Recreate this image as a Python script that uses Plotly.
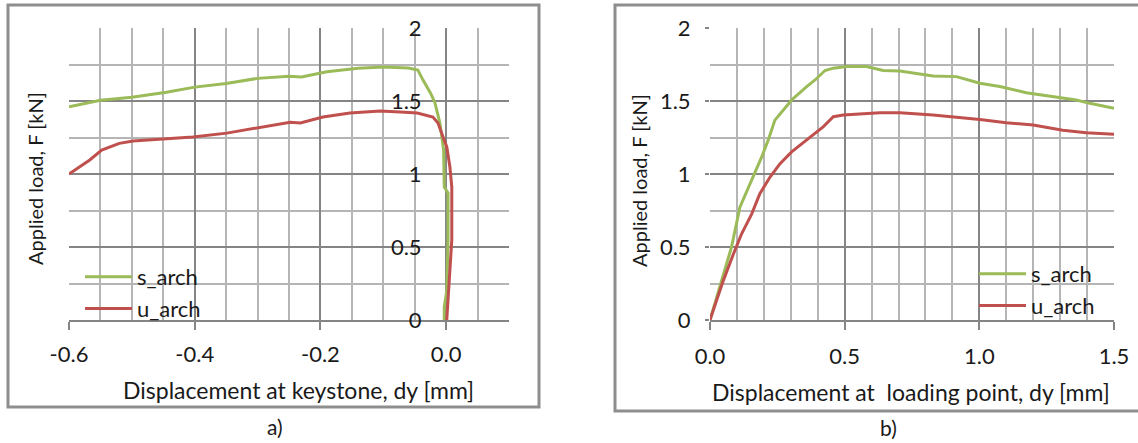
import plotly.graph_objects as go

# ---------------- data ----------------
# panel a) displacement at keystone
a_s_x = [-0.6, -0.55, -0.5, -0.445, -0.40, -0.35, -0.30, -0.25, -0.23, -0.19, -0.14, -0.10,
         -0.06, -0.045, -0.037, -0.025, -0.018, -0.010, -0.004, -0.003, 0.003, 0.003, 0.001,
         -0.003, -0.003]
a_s_y = [1.46, 1.505, 1.525, 1.56, 1.595, 1.62, 1.655, 1.67, 1.665, 1.70, 1.725, 1.733,
         1.726, 1.712, 1.645, 1.555, 1.49, 1.35, 1.165, 0.91, 0.87, 0.55, 0.20,
         0.09, 0.0]
a_u_x = [-0.6, -0.567, -0.548, -0.52, -0.498, -0.444, -0.403, -0.349, -0.296, -0.248, -0.232,
         -0.196, -0.153, -0.105, -0.073, -0.046, -0.021, -0.013, -0.005, 0.001, 0.006, 0.009,
         0.009, 0.006, 0.003, 0.001]
a_u_y = [1.0, 1.096, 1.164, 1.21, 1.226, 1.24, 1.253, 1.28, 1.32, 1.355, 1.35,
         1.39, 1.418, 1.432, 1.425, 1.418, 1.39, 1.35, 1.255, 1.185, 1.048, 0.91,
         0.55, 0.32, 0.158, 0.0]

# panel b) displacement at loading point
b_s_x = [0.0, 0.08, 0.111, 0.161, 0.192, 0.216, 0.241, 0.278, 0.303, 0.359, 0.39, 0.427,
         0.458, 0.507, 0.581, 0.643, 0.705, 0.828, 0.915, 1.002, 1.076, 1.174, 1.274,
         1.36, 1.41, 1.5]
b_s_y = [0.0, 0.5, 0.773, 0.98, 1.117, 1.232, 1.369, 1.45, 1.507, 1.599, 1.644, 1.709,
         1.725, 1.736, 1.736, 1.709, 1.706, 1.672, 1.667, 1.622, 1.599, 1.557, 1.53,
         1.507, 1.484, 1.45]
b_u_x = [0.0, 0.049, 0.087, 0.117, 0.155, 0.185, 0.223, 0.26, 0.303, 0.334, 0.383, 0.42,
         0.458, 0.495, 0.631, 0.705, 0.828, 1.002, 1.1, 1.2, 1.31, 1.397, 1.5]
b_u_y = [0.0, 0.268, 0.452, 0.589, 0.727, 0.865, 0.979, 1.071, 1.151, 1.197, 1.266, 1.323,
         1.392, 1.404, 1.42, 1.42, 1.404, 1.374, 1.351, 1.335, 1.30, 1.282, 1.273]

a_xticks = [-0.6, -0.4, -0.2, 0.0]
a_xtext = ["-0.6", "-0.4", "-0.2", "0.0"]
b_xticks = [0.0, 0.5, 1.0, 1.5]
b_xtext = ["0.0", "0.5", "1.0", "1.5"]
y_ticks = [0, 0.5, 1, 1.5, 2]
y_text = ["0", "0.5", "1", "1.5", "2"]

series_names = ["s_arch", "u_arch"]
colors = ["#9bbb59", "#c0504d"]

# ---------------- figure ----------------
W, H = 1138, 443
FONT = "Lato"
TXT = "#1a1a1a"
MAJ = "#858585"
MIN = "#b5b5b5"

def px(x):
    return x / W

def py(y):
    return 1 - y / H

fig = go.Figure()

for xs, ys, name, col in [(a_s_x, a_s_y, series_names[0], colors[0]),
                          (a_u_x, a_u_y, series_names[1], colors[1])]:
    fig.add_trace(go.Scatter(x=xs, y=ys, mode="lines", name=name,
                             line=dict(color=col, width=3),
                             xaxis="x", yaxis="y", legend="legend", legendgroup=name + "a"))
for xs, ys, name, col in [(b_s_x, b_s_y, series_names[0], colors[0]),
                          (b_u_x, b_u_y, series_names[1], colors[1])]:
    fig.add_trace(go.Scatter(x=xs, y=ys, mode="lines", name=name,
                             line=dict(color=col, width=3),
                             xaxis="x2", yaxis="y2", legend="legend2", legendgroup=name + "b"))

ydom = [py(320), py(28)]

common_y = dict(range=[0, 2], tickvals=y_ticks, ticktext=y_text, showgrid=True,
                gridcolor=MAJ, gridwidth=2, zeroline=False, showline=False, automargin=False,
                tickfont=dict(family=FONT, size=22, color=TXT),
                minor=dict(tickvals=[0.25, 0.75, 1.25, 1.75], showgrid=True,
                           gridcolor=MIN, gridwidth=2, ticks=""))

common_x = dict(showgrid=True, gridcolor=MAJ, gridwidth=2, zeroline=False,
                showline=True, linecolor=MAJ, linewidth=2, automargin=False,
                ticks="outside", ticklen=8, tickwidth=2, tickcolor=MAJ,
                tickfont=dict(family=FONT, size=22, color=TXT))

leg_common = dict(xanchor="left", yanchor="top", bgcolor="rgba(0,0,0,0)",
                  font=dict(family=FONT, size=22, color=TXT),
                  tracegroupgap=0, itemwidth=47)

fig.update_layout(
    template="none",
    width=W, height=H,
    margin=dict(l=0, r=0, t=0, b=0, pad=0),
    paper_bgcolor="white", plot_bgcolor="white",
    font=dict(family=FONT, color=TXT, size=22),
    xaxis=dict(domain=[px(69), px(509)], range=[-0.6, 0.1], anchor="y",
               tickvals=a_xticks, ticktext=a_xtext, ticklabelstandoff=6,
               minor=dict(dtick=0.05, tick0=0, showgrid=True, gridcolor=MIN, gridwidth=2, ticks=""),
               **common_x),
    yaxis=dict(domain=ydom, anchor="free", position=px(446),
               ticks="outside", ticklen=20, tickcolor="rgba(0,0,0,0)", **common_y),
    xaxis2=dict(domain=[px(710), px(1114)], range=[0, 1.5], anchor="y2",
                tickvals=b_xticks, ticktext=b_xtext, ticklabelstandoff=8,
                minor=dict(dtick=0.1, tick0=0, showgrid=True, gridcolor=MIN, gridwidth=2, ticks=""),
                **common_x),
    yaxis2=dict(domain=ydom, anchor="x2",
                ticks="outside", ticklen=4, tickwidth=2, tickcolor=MAJ,
                ticklabelstandoff=10, **common_y),
    legend=dict(x=px(80), y=py(256), **leg_common),
    legend2=dict(x=px(974), y=py(253), **leg_common),
    showlegend=True,
)

# panel frames
fig.add_shape(type="rect", xref="paper", yref="paper",
              x0=px(8), x1=px(539), y0=py(407), y1=py(5),
              line=dict(color="#8e8e8e", width=3), layer="below")
fig.add_shape(type="rect", xref="paper", yref="paper",
              x0=px(615), x1=px(1145), y0=py(411), y1=py(5),
              line=dict(color="#8e8e8e", width=3), layer="below")

ann = [
    dict(text="Displacement at keystone, dy [mm]", x=px(298), y=py(390), size=23, angle=0),
    dict(text="Displacement at&nbsp; loading point, dy [mm]", x=px(911), y=py(392), size=23, angle=0),
    dict(text="Applied load, F [kN]", x=px(35), y=py(179), size=20, angle=-90),
    dict(text="Applied load, F [kN]", x=px(639), y=py(181), size=20, angle=-90),
    dict(text="a)", x=px(275), y=py(426), size=21, angle=0),
    dict(text="b)", x=px(888), y=py(427), size=21, angle=0),
]
for a in ann:
    fig.add_annotation(text=a["text"], x=a["x"], y=a["y"],
                       xref="paper", yref="paper", xanchor="center", yanchor="middle",
                       showarrow=False, textangle=a["angle"],
                       font=dict(family=FONT, size=a["size"], color=TXT))

fig.write_html("out.html", config={"displayModeBar": False},
               post_script="document.body.style.margin='0px';document.body.style.overflow='hidden';")
